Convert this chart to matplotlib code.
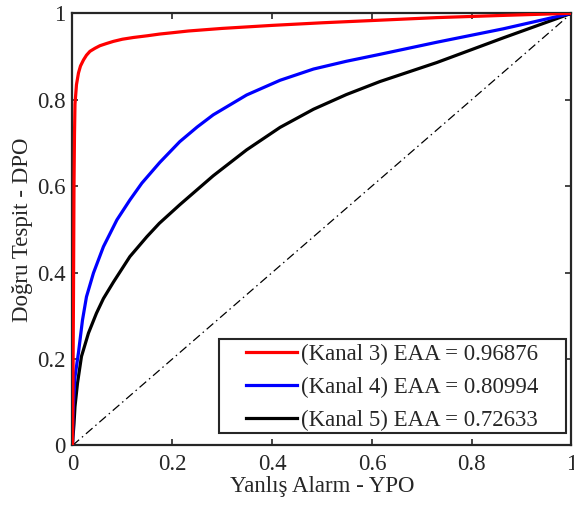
import matplotlib
matplotlib.use("Agg")
import numpy as np
import matplotlib.pyplot as plt
from matplotlib.legend_handler import HandlerLine2D
from matplotlib.patches import Rectangle

# ROC curves per channel (false positive rate, true positive rate)
fpr_k3 = [0.0, 0.001, 0.002, 0.003, 0.004, 0.005, 0.008, 0.012, 0.016, 0.022, 0.028,
          0.035, 0.045, 0.055, 0.068, 0.082, 0.1, 0.122, 0.15, 0.175, 0.2, 0.232,
          0.3, 0.4, 0.5, 0.596, 0.73, 0.86, 1.0]
tpr_k3 = [0.0, 0.15, 0.35, 0.6, 0.72, 0.79, 0.835, 0.862, 0.878, 0.892, 0.903,
          0.912, 0.919, 0.925, 0.93, 0.935, 0.94, 0.944, 0.948, 0.952, 0.955, 0.959,
          0.965, 0.972, 0.978, 0.983, 0.99, 0.995, 1.0]

fpr_k4 = [0.0, 0.001, 0.002, 0.005, 0.012, 0.02, 0.028, 0.042, 0.062, 0.089, 0.115,
          0.139, 0.175, 0.215, 0.25, 0.282, 0.349, 0.416, 0.483, 0.549, 0.616,
          0.73, 0.863, 1.0]
tpr_k4 = [0.0, 0.07, 0.098, 0.159, 0.215, 0.29, 0.344, 0.399, 0.46, 0.522, 0.568,
          0.607, 0.655, 0.703, 0.737, 0.765, 0.811, 0.845, 0.871, 0.889, 0.905,
          0.933, 0.964, 1.0]

fpr_k5 = [0.0, 0.001, 0.002, 0.003, 0.005, 0.01, 0.018, 0.032, 0.048, 0.062, 0.082,
          0.115, 0.149, 0.174, 0.215, 0.25, 0.282, 0.349, 0.416, 0.483, 0.549,
          0.616, 0.73, 0.863, 1.0]
tpr_k5 = [0.0, 0.02, 0.035, 0.05, 0.09, 0.144, 0.206, 0.26, 0.306, 0.34, 0.378,
          0.437, 0.483, 0.514, 0.557, 0.592, 0.624, 0.684, 0.736, 0.778, 0.812,
          0.842, 0.886, 0.943, 1.0]

auc_values = [0.96876, 0.80994, 0.72633]
channels = [3, 4, 5]
colors = ["#ff0000", "#0000ff", "#000000"]

ticks = [0, 0.2, 0.4, 0.6, 0.8, 1]
tick_labels = ["0", "0.2", "0.4", "0.6", "0.8", "1"]

FS = 16.5
edge = "#262626"

plt.rcParams["font.family"] = ["Liberation Serif", "DejaVu Serif"]


class ShortLineHandler(HandlerLine2D):
    """Legend line sample that only fills the right part of the handle box."""

    def get_xdata(self, legend, xdescent, ydescent, width, height, fontsize):
        x = np.array([-xdescent + 0.3 * width, -xdescent + width])
        return x, x


fig = plt.figure(figsize=(5.74, 5.09), dpi=100)
ax = fig.add_axes([0.1263, 0.1248, 0.8693, 0.8491])

curves = [(fpr_k3, tpr_k3), (fpr_k4, tpr_k4), (fpr_k5, tpr_k5)]
zorders = [5, 4, 3]
for (fx, ty), ch, auc, col, z in zip(curves, channels, auc_values, colors, zorders):
    ax.plot(fx, ty, color=col, lw=2.3, solid_joinstyle="round",
            label=f"(Kanal {ch}) EAA = {auc:.5f}", zorder=z)

ax.plot([0, 1], [0, 1], color="black", lw=0.9, linestyle=(0, (7, 3, 1.2, 3)), zorder=2)

ax.set_xlim(0, 1)
ax.set_ylim(0, 1)
ax.set_xticks(ticks)
ax.set_xticklabels(tick_labels)
ax.set_yticks(ticks)
ax.set_yticklabels(tick_labels)

for sp in ax.spines.values():
    sp.set_linewidth(1.6)
    sp.set_color(edge)
ax.tick_params(direction="in", length=4, width=1.2, color=edge, labelcolor=edge,
               labelsize=FS, top=True, right=True)
ax.tick_params(axis="x", pad=6)
ax.tick_params(axis="y", pad=5)

ax.set_xlabel("Yanlış Alarm - YPO", fontsize=FS, color=edge, labelpad=1)
ax.set_ylabel("Doğru Tespit - DPO", fontsize=FS, color=edge, labelpad=3)

# legend box
box_x0, box_x1 = 0.2936, 0.989
box_y0, box_y1 = 0.0289, 0.2465
leg = ax.legend(loc="upper left", bbox_to_anchor=(box_x0, box_y1), borderaxespad=0,
                fontsize=FS, frameon=False, handlelength=3.2, handletextpad=0.17,
                borderpad=0.2, labelspacing=0.52,
                handler_map={plt.Line2D: ShortLineHandler()})
for t in leg.get_texts():
    t.set_color(edge)
for ln in leg.get_lines():
    ln.set_linewidth(2.3)
leg.set_zorder(7)
frame = Rectangle((box_x0, box_y0), box_x1 - box_x0, box_y1 - box_y0,
                  transform=ax.transAxes, facecolor="white", edgecolor=edge,
                  linewidth=1.5, zorder=6)
ax.add_patch(frame)

fig.savefig("out.png", dpi=100)
